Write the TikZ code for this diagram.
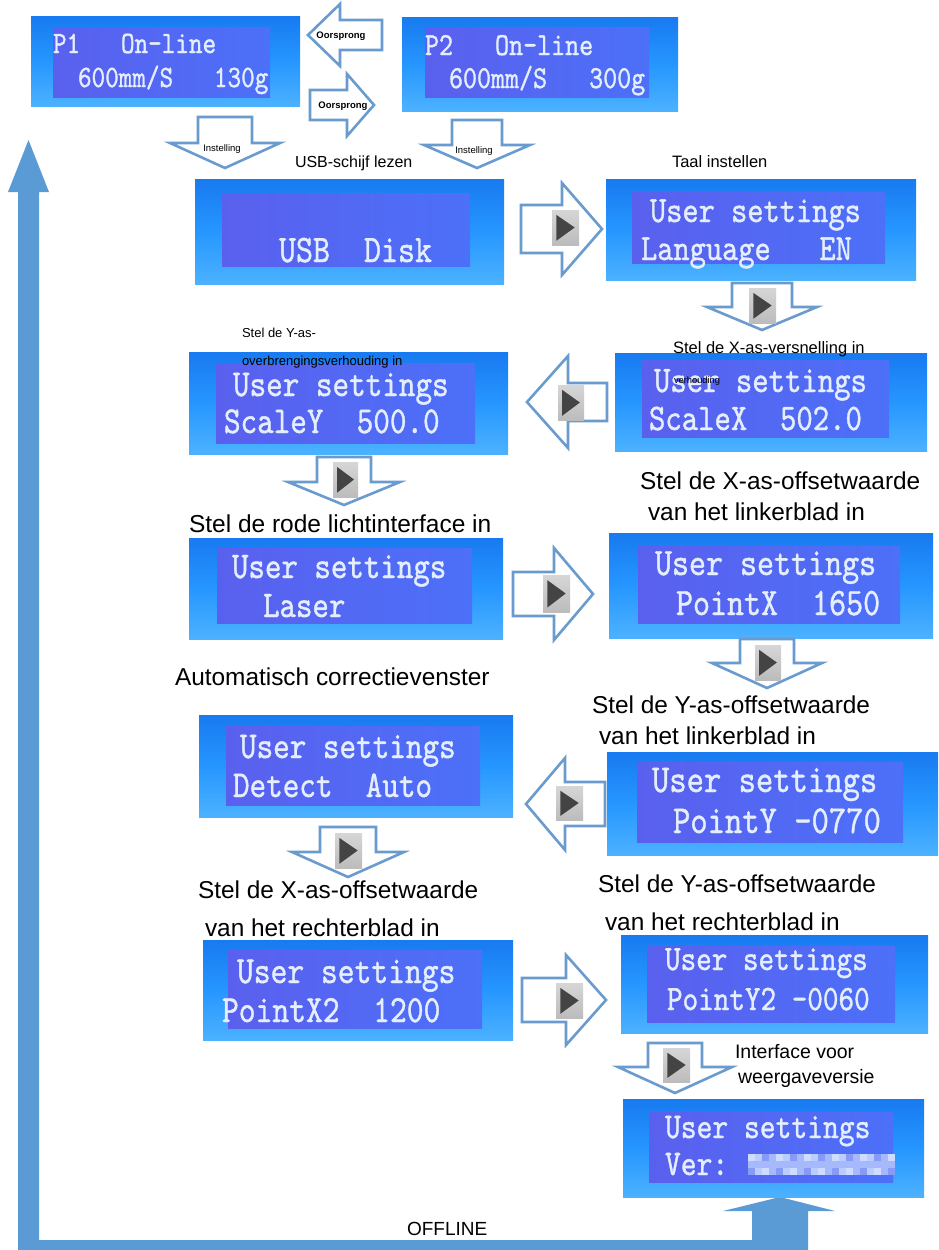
\documentclass[tikz,border=0pt]{standalone}
\usepackage{fontspec}
\setmainfont{Liberation Sans}
\newfontfamily\lcdfam[FakeBold=1.2]{lmmono10-regular.otf}
\usepackage{graphicx}
\definecolor{bigblue}{RGB}{91,155,213}
\definecolor{arrline}{RGB}{106,155,206}
\definecolor{lcdA}{RGB}{24,122,240}
\definecolor{lcdB}{RGB}{38,150,255}
\definecolor{lcdC}{RGB}{76,178,255}
\definecolor{inA}{RGB}{90,96,238}
\definecolor{inB}{RGB}{76,112,248}
\definecolor{lcdtext}{RGB}{228,238,255}
\definecolor{iconA}{RGB}{214,214,214}
\definecolor{iconB}{RGB}{188,188,188}
\definecolor{icontri}{RGB}{68,68,68}
\definecolor{pix0}{RGB}{205,220,255}
\definecolor{pix1}{RGB}{165,185,252}
\definecolor{pix2}{RGB}{135,155,246}
\definecolor{pix3}{RGB}{185,205,255}
\tikzset{
 lcdouter/.style={rectangle, inner sep=0, outer sep=0, top color=lcdA, bottom color=lcdC, middle color=lcdB, draw=none},
 lcdinner/.style={rectangle, inner sep=0, outer sep=0, left color=inA, right color=inB},
 lcdtxt/.style={inner sep=0, outer sep=0, text=lcdtext, anchor=base west},
 lbl/.style={inner sep=0, outer sep=0, text=black, anchor=base west},
 arrlbl/.style={inner sep=0, outer sep=0, text=black, anchor=center},
 outarrow/.style={draw=arrline, line width=2.6pt, fill=white, line join=miter},
 iconbox/.style={rectangle, inner sep=0, outer sep=0, anchor=north west, top color=iconA, bottom color=iconB},
}
% name, x1, y1, x2, y2, ix1, iy1, ix2, iy2
\newcommand\lcdscreen[9]{%
 \node[lcdouter, anchor=north west, minimum width={#4pt-#2pt}, minimum height={#5pt-#3pt}] (#1) at (#2,#3) {};
 \node[lcdinner, anchor=north west, minimum width={#8pt-#6pt}, minimum height={#9pt-#7pt}] (#1in) at (#6,#7) {};
}
% name, x, baseline y, font size, text
\newcommand\lcdline[5]{%
 \node[lcdtxt, font=\lcdfam\fontsize{#4}{#4}\selectfont] (#1) at (#2,#3) {\scalebox{1}[1.2]{#5}};}
% x, y (tail centre), rotation, length, shaft half width, head half width, head length
\newcommand\barrow[7]{%
 \draw[outarrow, shift={(#1,#2)}, rotate=#3] (0,-#5) -- ({#4-#7},-#5) -- ({#4-#7},-#6) -- (#4,0) -- ({#4-#7},#6) -- ({#4-#7},#5) -- (0,#5) -- cycle;}
% name, x1, y1, x2, y2
\newcommand\playicon[5]{%
 \node[iconbox, minimum width={#4pt-#2pt}, minimum height={#5pt-#3pt}] (#1) at (#2,#3) {};
 \fill[icontri] ({#2+0.16*(#4-#2)},{#3+0.14*(#5-#3)}) -- ({#2+0.84*(#4-#2)},{#3+0.5*(#5-#3)}) -- ({#2+0.16*(#4-#2)},{#3+0.88*(#5-#3)}) -- cycle;}
\newcommand\labsize[1]{\fontsize{#1}{#1}\selectfont}
\begin{document}
\begin{tikzpicture}[x=1pt,y=-1pt]
\useasboundingbox (0,0) rectangle (938,1250);
\fill[white] (0,0) rectangle (938,1250);

% big return arrow (OFFLINE)
\fill[bigblue] (18,1250) -- (18,192) -- (8,192) -- (28.5,140) -- (49,192) -- (39,192) -- (39,1240) -- (752,1240) -- (752,1211) -- (723,1211) -- (780,1197) -- (835,1211) -- (808,1211) -- (808,1250) -- cycle;

% screens
\lcdscreen{P1}{31}{16}{300}{106}{53}{27}{270}{97}
\lcdline{P1a}{53}{53}{25.9}{P1~~~On-line}
\lcdline{P1b}{78}{87}{25.9}{600mm/S~~~130g}

\lcdscreen{P2}{402}{17}{678}{111}{425}{27}{649}{97}
\lcdline{P2a}{425}{55}{26.7}{P2~~~On-line}
\lcdline{P2b}{449}{88}{26.7}{600mm/S~~~300g}

\lcdscreen{usb}{195}{179}{504}{284}{222}{193}{470}{266}
\lcdline{usba}{279}{262}{32.4}{USB~~Disk}

\lcdscreen{lang}{606}{179}{916}{280}{632}{192}{885}{263}
\lcdline{langa}{650}{222}{30.9}{User~settings}
\lcdline{langb}{641}{260}{30.9}{Language~~~EN}

\lcdscreen{scx}{615}{353}{927}{451}{642}{360}{889}{437}
\lcdline{scxa}{654}{392}{31.2}{User~settings}
\lcdline{scxb}{649}{430}{31.2}{ScaleX~~502.0}

\lcdscreen{scy}{189}{352}{508}{454}{216}{363}{475}{443}
\lcdline{scya}{233}{396}{31.6}{User~settings}
\lcdline{scyb}{224}{433}{31.6}{ScaleY~~500.0}

\lcdscreen{laser}{189}{538}{503}{639}{217}{548}{472}{623}
\lcdline{lasera}{232}{578}{31.4}{User~settings}
\lcdline{laserb}{263}{617}{31.4}{Laser}

\lcdscreen{ptx}{609}{533}{933}{638}{638}{546}{900}{623}
\lcdline{ptxa}{655}{575}{32.4}{User~settings}
\lcdline{ptxb}{676}{615}{32.4}{PointX~~1650}

\lcdscreen{det}{199}{715}{513}{817}{226}{726}{480}{805}
\lcdline{deta}{240}{758}{31.6}{User~settings}
\lcdline{detb}{233}{797}{31.6}{Detect~~Auto}

\lcdscreen{pty}{607}{752}{938}{855}{637}{762}{903}{842}
\lcdline{ptya}{652}{792}{33}{User~settings}
\lcdline{ptyb}{673}{833}{33}{PointY~-0770}

\lcdscreen{ptxx}{203}{940}{513}{1040}{228}{950}{482}{1028}
\lcdline{ptxxa}{237}{983}{32}{User~settings}
\lcdline{ptxxb}{222}{1022}{32}{PointX2~~1200}

\lcdscreen{ptyy}{621}{935}{928}{1033}{647}{946}{895}{1022}
\lcdline{ptyya}{665}{970}{29.7}{User~settings}
\lcdline{ptyyb}{667}{1010}{29.7}{PointY2~-0060}

\lcdscreen{ver}{623}{1099}{924}{1197}{649}{1112}{893}{1182}
\lcdline{vera}{665}{1138}{30.1}{User~settings}
\lcdline{verb}{665}{1175}{30.1}{Ver:}
\foreach \i in {0,...,20}{\foreach \j in {0,1,2}{%
 \pgfmathtruncatemacro\k{mod(\i*7+\j*5+\i*\j,4)}%
 \fill[color=pix\k] ({748+7*\i},{1154+7*\j}) rectangle ++(7,7);}}

% outline arrows
\barrow{382}{35}{180}{74}{15}{31}{32}
\barrow{310}{105}{0}{64}{15}{31}{27}
\barrow{225}{117}{-90}{51}{27}{55}{25}
\barrow{477}{120}{-90}{48}{25}{53}{23}
\barrow{521}{229}{0}{81}{24}{46}{40}
\barrow{762}{283}{-90}{47}{30}{55}{23}
\barrow{607}{402}{180}{80}{19}{46}{41}
\barrow{344}{457}{-90}{48}{27}{56}{23}
\barrow{513}{594}{0}{80}{22}{46}{39}
\barrow{767}{639}{-90}{49}{27}{55}{25}
\barrow{605}{804}{180}{79}{22}{46}{39}
\barrow{348}{827}{-90}{50}{28}{56}{25}
\barrow{522}{1000}{0}{84}{22}{45}{40}
\barrow{675}{1043}{-90}{50}{27}{57}{26}

% play icons
\playicon{ic1}{552}{210}{579}{245}
\playicon{ic2}{749}{288}{776}{323}
\playicon{ic3}{558}{385}{584}{420}
\playicon{ic4}{333}{462}{358}{497}
\playicon{ic5}{543}{575}{570}{612}
\playicon{ic6}{755}{645}{781}{680}
\playicon{ic7}{556}{786}{583}{820}
\playicon{ic8}{335}{833}{362}{868}
\playicon{ic9}{556}{983}{583}{1018}
\playicon{ic10}{663}{1048}{690}{1082}

% arrow labels
\node[arrlbl, font=\labsize{9.5}\bfseries] (o1) at (341,36) {Oorsprong};
\node[arrlbl, font=\labsize{9.5}\bfseries] (o2) at (343,106) {Oorsprong};
\node[arrlbl, font=\labsize{9.5}] (i1) at (222,149) {Instelling};
\node[arrlbl, font=\labsize{9.5}] (i2) at (474,151) {Instelling};

% captions
\node[lbl, font=\labsize{16}] (t1) at (295,167) {USB-schijf lezen};
\node[lbl, font=\labsize{16.5}] (t2) at (672,167) {Taal instellen};
\node[lbl, font=\labsize{13}] (t3) at (242,337) {Stel de Y-as-};
\node[lbl, font=\labsize{13}] (t4) at (242,365) {overbrengingsverhouding in};
\node[lbl, font=\labsize{16.5}] (t5) at (673,353) {Stel de X-as-versnelling in};
\node[lbl, font=\labsize{9.3}] (t6) at (674,383) {verhouding};
\node[lbl, font=\labsize{24.5}] (t7) at (189,532) {Stel de rode lichtinterface in};
\node[lbl, font=\labsize{24.4}] (t8) at (640,489) {Stel de X-as-offsetwaarde};
\node[lbl, font=\labsize{24.4}] (t9) at (648,520) {van het linkerblad in};
\node[lbl, font=\labsize{24.4}] (t10) at (175,685) {Automatisch correctievenster};
\node[lbl, font=\labsize{24.4}] (t11) at (592,713) {Stel de Y-as-offsetwaarde};
\node[lbl, font=\labsize{24.4}] (t12) at (599,744) {van het linkerblad in};
\node[lbl, font=\labsize{24.4}] (t13) at (198,898) {Stel de X-as-offsetwaarde};
\node[lbl, font=\labsize{24.4}] (t14) at (205,936) {van het rechterblad in};
\node[lbl, font=\labsize{24.4}] (t15) at (598,892) {Stel de Y-as-offsetwaarde};
\node[lbl, font=\labsize{24.4}] (t16) at (605,930) {van het rechterblad in};
\node[lbl, font=\labsize{19.5}] (t17) at (735,1058) {Interface voor};
\node[lbl, font=\labsize{19.5}] (t18) at (738,1083) {weergaveversie};
\node[lbl, font=\labsize{19}] (t19) at (407,1235) {OFFLINE};
\end{tikzpicture}
\end{document}
